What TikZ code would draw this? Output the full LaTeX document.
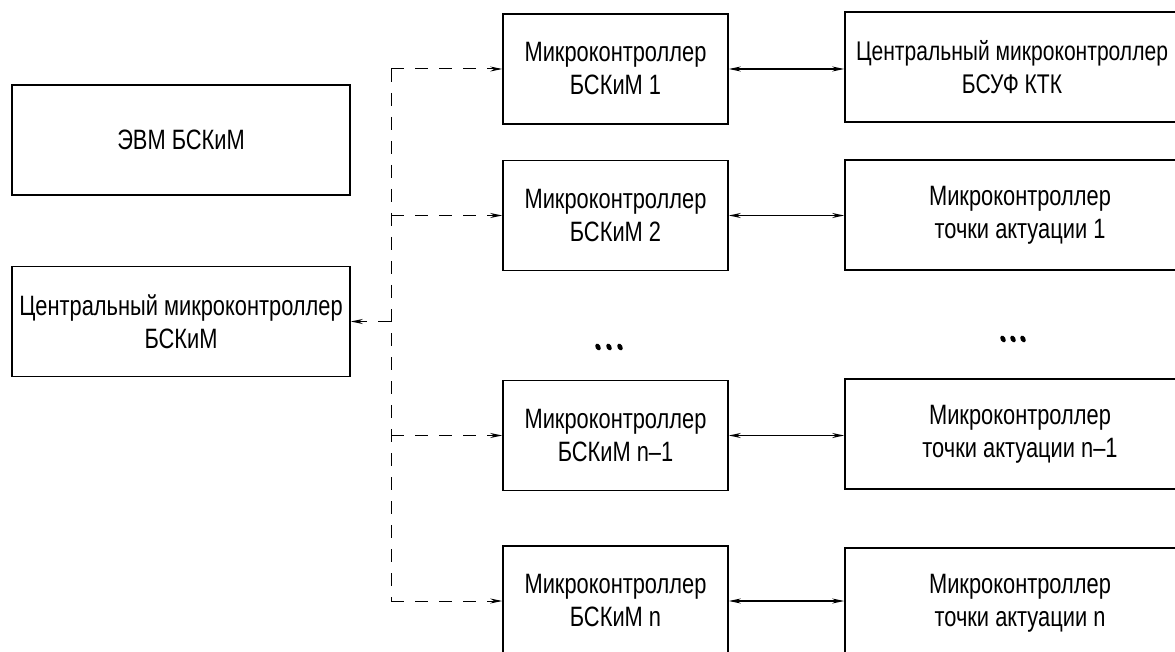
\documentclass[tikz,border=0pt]{standalone}
\usepackage{fontspec}
\setmainfont{Liberation Sans}[FakeStretch=0.78]
\usetikzlibrary{arrows.meta}
\begin{document}
\begin{tikzpicture}[x=1pt,y=-1pt,
 box/.style={draw,line width=1.6pt,minimum height=110pt,align=center,font=\fontsize{28}{33}\selectfont,inner sep=0pt},
 mbox/.style={box,minimum width=225pt},
 rbox/.style={box,minimum width=350pt},
 lbox/.style={box,minimum width=338pt},
 bus/.style={dash pattern=on 13pt off 11pt,line width=1pt},
 tip/.style={-{Stealth[length=12pt,width=5pt]}},
 both/.style={{Stealth[length=12pt,width=5pt]}-{Stealth[length=12pt,width=5pt]},line width=1.4pt},
 dot/.style={fill=black}]
\useasboundingbox (0,0) rectangle (1175,652);
% left column
\node[lbox] (evm) at (181,140) {ЭВМ БСКиМ};
\node[lbox] (cen) at (181,321.5) {Центральный микроконтроллер\\БСКиМ};
% middle column
\node[mbox] (m1) at (615.5,69) {Микроконтроллер\\БСКиМ 1};
\node[mbox] (m2) at (615.5,215.5) {Микроконтроллер\\БСКиМ 2};
\node[mbox] (m3) at (615.5,435.5) {Микроконтроллер\\БСКиМ n–1};
\node[mbox] (m4) at (615.5,601) {Микроконтроллер\\БСКиМ n};
% right column
\node[rbox] (r1) at (1020,67) {};
\node[font=\fontsize{27}{33}\selectfont,align=center,inner sep=0pt] (r1t) at (1012,67) {Центральный микроконтроллер\\БСУФ КТК};
\node[rbox] (r2) at (1020,215) {Микроконтроллер\\точки актуации 1};
\node[rbox] (r3) at (1020,434) {Микроконтроллер\\точки актуации n–1};
\node[rbox] (r4) at (1020,603) {Микроконтроллер\\точки актуации n};
% bus
\coordinate (bx) at (391,0);
\draw[bus] (bx |- m1.west) -- (bx |- m4.west);
\draw[bus,tip] (bx |- m1.west) -- (m1.west);
\draw[bus,tip] (bx |- m2.west) -- (m2.west);
\draw[bus,tip] (bx |- m3.west) -- (m3.west);
\draw[bus,tip] (bx |- m4.west) -- (m4.west);
\draw[bus,tip] (bx |- cen.east) -- (cen.east);
% bidirectional links
\draw[both] (m1.east) -- (r1.west |- m1.east);
\draw[both] (m2.east) -- (r2.west |- m2.east);
\draw[both] (m3.east) -- (r3.west |- m3.east);
\draw[both] (m4.east) -- (r4.west |- m4.east);
% ellipsis dots
\foreach \x in {598,609,620} \fill[dot,rotate around={-60:(\x,347)}] (\x,347) ellipse (3.6pt and 2.4pt);
\foreach \x in {1003,1013,1023} \fill[dot,rotate around={-60:(\x,339)}] (\x,339) ellipse (3.6pt and 2.4pt);
\end{tikzpicture}
\end{document}
